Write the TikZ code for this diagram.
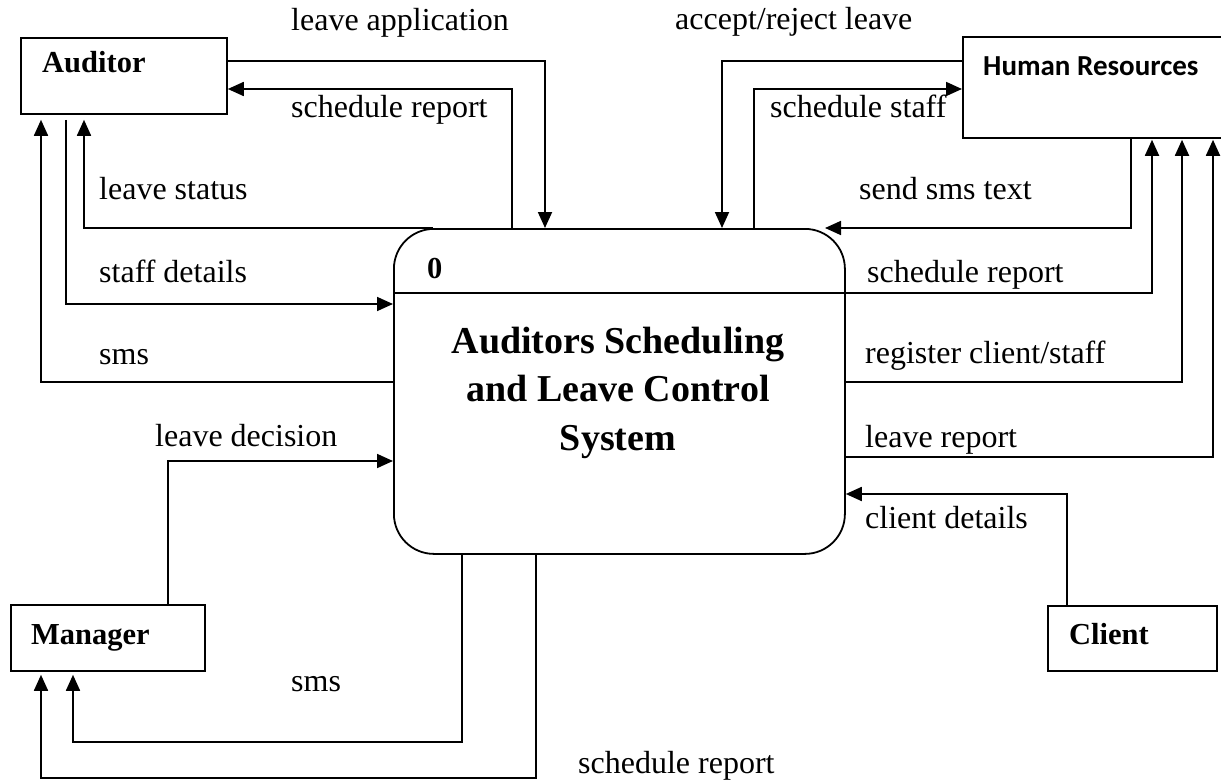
\documentclass[tikz,border=0pt]{standalone}
\usepackage{fontspec}
\setmainfont{Liberation Serif}
\newfontfamily\hrfnt{Carlito}
\usetikzlibrary{arrows.meta}
\newcommand\lblfnt{\fontsize{32}{38}\selectfont}
\newcommand\entfnt{\fontsize{30.5}{36}\selectfont\bfseries}
\tikzset{
  flow/.style={line width=1.8pt, -{Triangle[length=16pt,width=14pt]}},
  box/.style={draw, line width=1.8pt, rectangle, inner sep=0pt, anchor=north west},
  lbl/.style={anchor=base west, inner sep=0pt, font=\lblfnt},
  ent/.style={anchor=base west, inner sep=0pt, font=\entfnt},
}
\begin{document}
\begin{tikzpicture}[x=1pt,y=-1pt]
\useasboundingbox (0,0) rectangle (1221,781);
% entities
\node[box, minimum width=206pt, minimum height=76pt] (aud) at (20,37) {};
\node[box, minimum width=270pt, minimum height=101pt] (hr) at (962,36) {};
\node[box, minimum width=194pt, minimum height=66pt] (mgr) at (10,604) {};
\node[box, minimum width=169pt, minimum height=65pt] (cli) at (1047,605) {};
\node[box, rounded corners=40pt, minimum width=451pt, minimum height=325pt] (proc) at (393,228) {};
\node[ent] (audt) at (42,73) {Auditor};
\node[ent] (mgrt) at (31,644) {Manager};
\node[ent] (clit) at (1069,644) {Client};
\node[anchor=base west, inner sep=0pt, font=\hrfnt\fontsize{29}{34}\selectfont\bfseries] (hrt) at (983,76) {Human Resources};
\node[ent] (zero) at (427,278) {0};
\node[anchor=base, inner sep=0pt, align=center, font=\fontsize{38}{48.5}\selectfont\bfseries] (title) at (618,450) {Auditors Scheduling\\and Leave Control\\System};
% gap coordinates below boxes
\coordinate (audbot) at ([yshift=-5pt]aud.south);
\coordinate (mgrbot) at ([yshift=-3pt]mgr.south);
\coordinate (hrbot) at ([yshift=-1pt]hr.south);
% flows auditor
\draw[flow] (aud.east |- 0,61) -| (proc.north -| 545,0);
\draw[flow] (proc.north -| 512,0) |- (aud.east |- 0,89);
\draw[flow] (proc.north -| 433,0) -| (audbot -| 84,0);
\draw[flow] (audbot -| 66,0) |- (proc.west |- 0,304);
\draw[flow] (proc.west |- 0,382) -| (audbot -| 41,0);
% flows manager
\draw[flow] (mgr.north -| 168,0) |- (proc.west |- 0,461);
\draw[flow] (proc.south -| 462,0) -- (462,742) -- (73,742) -- (mgrbot -| 73,0);
\draw[flow] (proc.south -| 536,0) -- (536,778) -- (41,778) -- (mgrbot -| 41,0);
% flows HR
\draw[flow] (hr.west |- 0,61) -| (proc.north -| 722,0);
\draw[flow] (proc.north -| 754,0) |- (hr.west |- 0,89);
\draw[flow] (hr.south -| 1131,0) |- (proc.north -| 825,0);
\draw[flow] (proc.west |- 0,293) -| (hrbot -| 1152,0);
\draw[flow] (proc.east |- 0,382) -| (hrbot -| 1182,0);
\draw[flow] (proc.east |- 0,457) -| (hrbot -| 1213,0);
% client
\draw[flow] (cli.north -| 1067,0) |- (proc.east |- 0,494);
% labels
\node[lbl] (l1) at (291,31) {leave application};
\node[lbl] (l2) at (291,118) {schedule report};
\node[lbl] (l3) at (99,200) {leave status};
\node[lbl] (l4) at (99,282) {staff details};
\node[lbl] (l5) at (99,364) {sms};
\node[lbl] (l6) at (155,446) {leave decision};
\node[lbl] (l7) at (291,691) {sms};
\node[lbl] (l8) at (578,773) {schedule report};
\node[lbl] (l9) at (675,30) {accept/reject leave};
\node[lbl] (l10) at (770,118) {schedule staff};
\node[lbl] (l11) at (859,200) {send sms text};
\node[lbl] (l12) at (867,282) {schedule report};
\node[lbl] (l13) at (865,363) {register client/staff};
\node[lbl] (l14) at (865,447) {leave report};
\node[lbl] (l15) at (865,528) {client details};
\end{tikzpicture}
\end{document}
